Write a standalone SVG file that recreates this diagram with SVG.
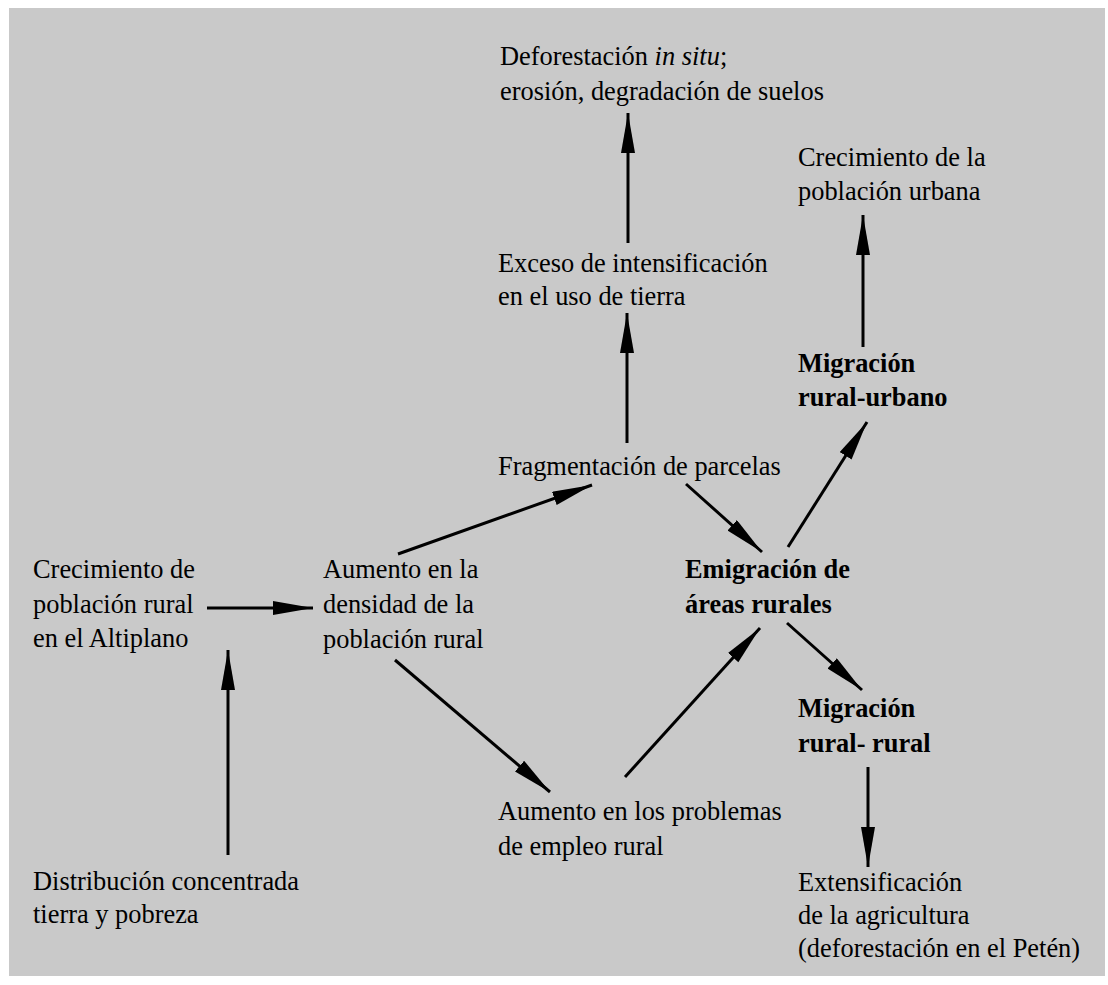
<svg xmlns="http://www.w3.org/2000/svg" width="1108" height="985" viewBox="0 0 1108 985">
<style>
text{font-family:"Liberation Serif","Times New Roman",serif;font-size:26.4px;fill:#000}
.b{font-weight:bold}
.c line{stroke:#000;stroke-width:3;marker-end:url(#ah)}
</style>
<defs>
<marker id="ah" markerUnits="userSpaceOnUse" markerWidth="44" markerHeight="16" refX="40" refY="7" orient="auto">
<path d="M0,0 L40,7 L0,14 z" fill="#000"/>
</marker>
</defs>
<rect x="0" y="0" width="1108" height="985" fill="#fff"/>
<rect x="9" y="8" width="1096" height="968" fill="#c9c9c9"/>
<g id="n1"><text x="500" y="65">Deforestación <tspan font-style="italic">in situ</tspan>;</text><text x="500" y="100">erosión, degradación de suelos</text></g>
<g id="n2"><text x="798" y="166">Crecimiento de la</text><text x="798" y="200">población urbana</text></g>
<g id="n3"><text x="498" y="272">Exceso de intensificación</text><text x="498" y="305">en el uso de tierra</text></g>
<g id="n4"><text class="b" x="798" y="372">Migración</text><text class="b" x="798" y="406">rural-urbano</text></g>
<g id="n5"><text x="498" y="475">Fragmentación de parcelas</text></g>
<g id="n6"><text x="33" y="578">Crecimiento de</text><text x="33" y="613">población rural</text><text x="33" y="647">en el Altiplano</text></g>
<g id="n7"><text x="323" y="578">Aumento en la</text><text x="323" y="613">densidad de la</text><text x="323" y="648">población rural</text></g>
<g id="n8"><text class="b" x="685" y="578">Emigración de</text><text class="b" x="685" y="613">áreas rurales</text></g>
<g id="n9"><text class="b" x="798" y="717">Migración</text><text class="b" x="798" y="752">rural- rural</text></g>
<g id="n10"><text x="498" y="820">Aumento en los problemas</text><text x="498" y="855">de empleo rural</text></g>
<g id="n11"><text x="33" y="890">Distribución concentrada</text><text x="33" y="923">tierra y pobreza</text></g>
<g id="n12"><text x="798" y="891">Extensificación</text><text x="798" y="924">de la agricultura</text><text x="798" y="957">(deforestación en el Petén)</text></g>
<g id="connectors" class="c">
<line x1="628" y1="243" x2="628" y2="113"/>
<line x1="627" y1="443" x2="627" y2="313"/>
<line x1="863" y1="347" x2="863" y2="215"/>
<line x1="207" y1="608" x2="313" y2="608"/>
<line x1="228" y1="855" x2="228" y2="650"/>
<line x1="398" y1="554" x2="592" y2="485"/>
<line x1="686" y1="484" x2="762" y2="552"/>
<line x1="788" y1="547" x2="867" y2="422"/>
<line x1="395" y1="660" x2="550" y2="792"/>
<line x1="625" y1="777" x2="760" y2="628"/>
<line x1="787" y1="623" x2="862" y2="690"/>
<line x1="868" y1="767" x2="868" y2="867"/>
</g>
</svg>
